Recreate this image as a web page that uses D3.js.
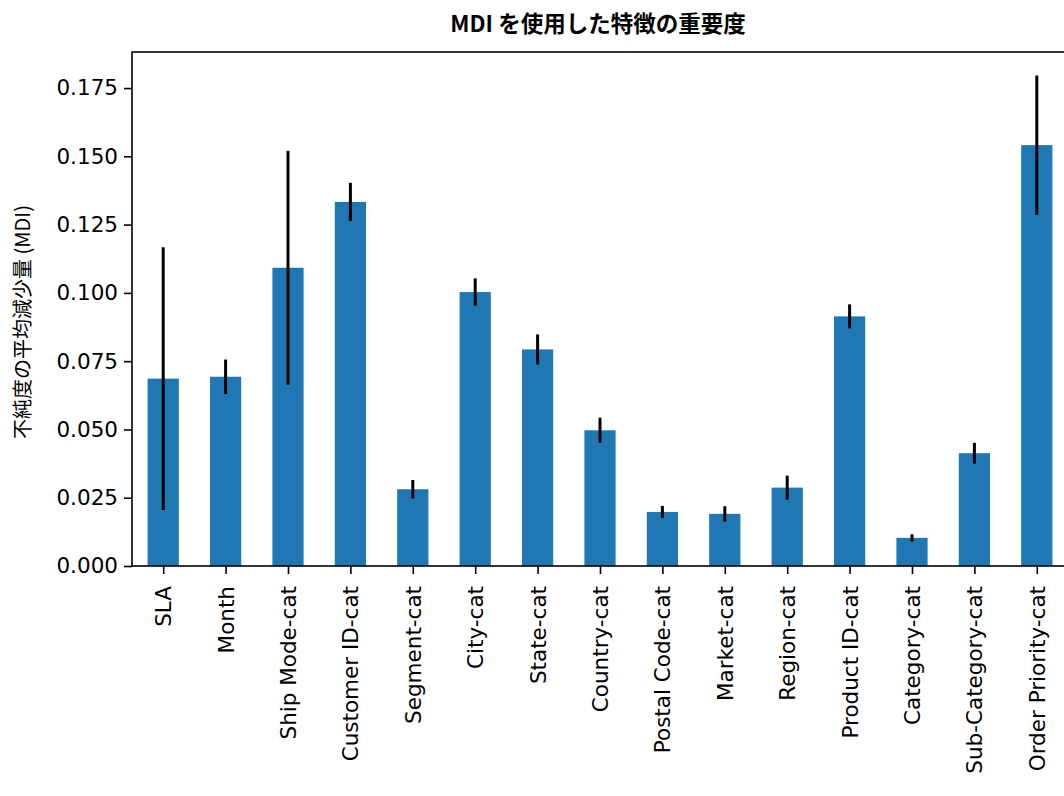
<!DOCTYPE html>
<html>
<head>
<meta charset="utf-8">
<script src="https://cdn.jsdelivr.net/npm/d3@7"></script>
<style>
  body { margin: 0; background: #fff; }
  svg { display: block; }
</style>
</head>
<body>
<div id="chart"></div>
<script>
// feature names, MDI importances and their std (error bars)
var features = ["SLA", "Month", "Ship Mode-cat", "Customer ID-cat", "Segment-cat",
    "City-cat", "State-cat", "Country-cat", "Postal Code-cat", "Market-cat",
    "Region-cat", "Product ID-cat", "Category-cat", "Sub-Category-cat", "Order Priority-cat"];
var importances = [0.0686, 0.0693, 0.1092, 0.1333, 0.0281, 0.1003, 0.0793, 0.0497,
    0.0198, 0.0191, 0.0287, 0.0914, 0.0103, 0.0413, 0.1541];
var stds = [0.0481, 0.0063, 0.0428, 0.0070, 0.0034, 0.0050, 0.0055, 0.0046,
    0.0022, 0.0028, 0.0044, 0.0044, 0.0013, 0.0038, 0.0255];
var yTicks = [0, 0.025, 0.05, 0.075, 0.1, 0.125, 0.15, 0.175];

var width = 1064, height = 796,
    plotLeft = 132, plotRight = 1068, plotTop = 52, plotBottom = 566;

var svg = d3.select("#chart")
            .append("svg")
              .attr("width", width)
              .attr("height", height);

var x = d3.scaleLinear()
          .domain([-0.5, features.length - 0.5])
          .range([plotLeft, plotRight]);

var y = d3.scaleLinear()
          .domain([0, 0.1882])
          .range([plotBottom, plotTop]);

var step = x(1) - x(0),
    barW = step * 0.5;

// bars
svg.selectAll("rect.bar")
    .data(importances)
    .enter()
    .append("rect")
      .attr("class", "bar")
      .attr("x", function(d, i) { return x(i) - barW / 2; })
      .attr("y", function(d) { return y(d); })
      .attr("width", barW)
      .attr("height", function(d) { return plotBottom - y(d); })
      .style("fill", "#1f77b4");

// error bars
svg.selectAll("line.err")
    .data(importances)
    .enter()
    .append("line")
      .attr("class", "err")
      .attr("x1", function(d, i) { return x(i); })
      .attr("x2", function(d, i) { return x(i); })
      .attr("y1", function(d, i) { return y(d - stds[i]); })
      .attr("y2", function(d, i) { return y(d + stds[i]); })
      .style("stroke", "#000")
      .style("stroke-width", 3);

// y axis
var yAxis = d3.axisLeft(y)
    .tickValues(yTicks)
    .tickFormat(d3.format(".3f"))
    .tickSize(8)
    .tickPadding(6);

var gy = svg.append("g")
    .attr("transform", "translate(" + plotLeft + ",0)")
    .call(yAxis);
gy.select(".domain").remove();
gy.selectAll("line").style("stroke", "#000").style("stroke-width", 1.6);
gy.selectAll("text")
    .style("font", "21.5px 'DejaVu Sans'")
    .style("fill", "#000");

// x axis
var xAxis = d3.axisBottom(x)
    .tickValues(d3.range(features.length))
    .tickFormat(function(d) { return features[d]; })
    .tickSize(8);

var gx = svg.append("g")
    .attr("transform", "translate(0," + plotBottom + ")")
    .call(xAxis);
gx.select(".domain").remove();
gx.selectAll("line").style("stroke", "#000").style("stroke-width", 1.6);
gx.selectAll("text")
    .attr("x", 0)
    .attr("y", 0)
    .attr("dy", null)
    .attr("transform", "translate(0,20) rotate(-90)")
    .attr("text-anchor", "end")
    .attr("dominant-baseline", "central")
    .style("font", "21.5px 'DejaVu Sans'")
    .style("fill", "#000");

// frame
svg.append("rect")
    .attr("x", plotLeft)
    .attr("y", plotTop)
    .attr("width", plotRight - plotLeft)
    .attr("height", plotBottom - plotTop)
    .style("fill", "none")
    .style("stroke", "#000")
    .style("stroke-width", 1.6);

// title and y label
svg.append("text")
    .attr("x", 598)
    .attr("y", 32)
    .attr("text-anchor", "middle")
    .style("font", "22.5px 'Noto Sans CJK JP'")
    .style("font-weight", "bold")
    .style("fill", "#000")
    .text("MDI を使用した特徴の重要度");

svg.append("text")
    .attr("transform", "translate(21,322) rotate(-90)")
    .attr("text-anchor", "middle")
    .attr("dominant-baseline", "central")
    .style("font", "20px 'Noto Sans CJK JP'")
    .style("fill", "#000")
    .text("不純度の平均減少量 (MDI)");
</script>
</body>
</html>
